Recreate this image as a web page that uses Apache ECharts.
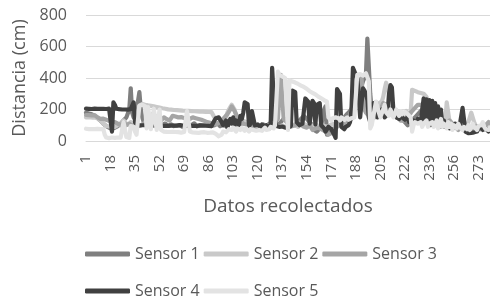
<!DOCTYPE html>
<html>
<head>
<meta charset="utf-8">
<script src="https://cdn.jsdelivr.net/npm/echarts@6/dist/echarts.min.js"></script>
<style>
html, body { margin: 0; padding: 0; background: #fff; }
#chart { width: 490px; height: 302px; }
</style>
</head>
<body>
<div id="chart"></div>
<script>
// numbered readings 1..281
var datos = [];
for (var k = 1; k <= 281; k++) datos.push(String(k));

var sensores = ['Sensor 1', 'Sensor 2', 'Sensor 3', 'Sensor 4', 'Sensor 5'];
var colores = ['#7f7f7f', '#c9c9c9', '#a5a5a5', '#404040', '#e3e3e3'];

var sensor1 = [
    180,178,175,176,170,165,160,150,145,140,130,120,110,100,95,90,85,80,75,80,
    85,90,95,100,110,120,130,140,150,160,200,335,180,150,140,200,250,310,200,150,
    120,110,100,105,112,98,95,101,106,110,99,94,90,103,105,111,100,96,102,105,
    100,95,105,99,110,101,95,90,100,104,110,98,95,100,106,112,100,94,90,100,
    105,100,95,101,110,104,100,95,90,100,105,112,100,94,100,105,99,95,101,110,
    120,132,140,118,110,100,95,102,110,121,130,108,100,95,90,100,105,96,90,100,
    95,90,100,105,95,88,100,110,100,95,90,100,95,100,110,120,130,140,150,140,
    130,120,110,100,90,100,110,120,130,140,150,160,150,140,130,120,110,100,70,60,
    60,70,80,100,150,200,220,40,35,50,60,72,80,90,98,110,120,128,140,150,
    160,172,180,190,200,218,240,262,280,300,320,350,380,400,420,650,640,300,200,180,
    170,160,150,160,172,180,190,198,210,220,230,220,210,200,190,182,170,160,150,140,
    130,120,110,100,110,120,130,140,150,160,170,180,190,200,190,180,170,160,150,140,
    130,120,110,100,95,90,100,110,100,95,90,85,80,90,100,95,90,85,80,90,
    85,80,90,95,100,90,85,80,75,80,85,90,80,75,70,80,85,90,80,75,
    70
];

var sensor2 = [
    150,148,152,150,149,151,150,148,145,140,130,120,110,100,95,90,92,95,90,88,
    90,95,100,110,105,100,130,140,110,100,105,120,110,100,95,150,180,220,230,235,
    232,230,228,226,225,223,222,220,218,216,214,212,210,208,206,205,203,201,200,199,
    198,197,196,196,195,195,194,193,193,192,192,191,190,190,189,189,188,188,187,187,
    186,186,185,185,184,184,183,183,182,150,148,145,140,135,130,125,130,150,180,200,
    215,230,228,200,160,140,130,125,120,130,140,120,110,100,105,110,100,95,90,85,
    90,85,80,95,90,85,100,95,90,110,130,120,100,95,90,85,100,95,90,100,
    95,100,90,105,110,100,95,90,100,110,95,100,105,90,95,100,110,95,100,105,
    100,95,90,100,110,95,100,90,85,100,95,110,100,90,95,100,110,105,95,100,
    110,120,130,150,200,250,300,350,380,390,300,250,200,220,240,260,200,180,170,160,
    180,200,220,240,230,250,280,330,370,375,300,220,200,180,190,170,180,175,170,180,
    180,175,190,170,180,175,325,320,318,315,310,308,305,303,300,298,280,250,230,220,
    210,190,180,170,160,150,140,120,110,120,245,240,120,100,110,90,100,95,110,100,
    95,100,110,90,100,120,150,180,175,120,100,90,85,95,100,90,85,95,90,85,
    80
];

var sensor3 = [
    165,166,164,165,163,165,164,160,150,145,140,138,142,140,135,130,128,125,120,118,
    120,115,110,105,100,110,120,115,100,105,110,100,95,100,105,110,100,95,100,105,
    110,120,132,140,150,158,170,165,160,152,140,135,130,141,150,145,138,135,130,125,
    160,158,155,157,150,148,152,150,145,140,138,142,140,145,150,148,145,142,140,138,
    135,130,128,125,120,118,115,112,110,108,105,110,115,120,130,140,150,160,170,180,
    200,220,210,190,170,150,140,130,120,110,100,105,110,100,95,90,100,95,90,85,
    85,90,80,85,90,95,85,80,90,100,110,120,130,140,150,420,430,140,130,120,
    120,110,100,95,90,100,110,120,115,110,100,90,80,85,90,100,95,70,75,80,
    90,85,80,75,70,65,60,55,40,45,50,60,70,80,90,100,110,120,110,100,
    100,110,120,130,140,150,200,250,300,350,380,400,250,200,180,170,160,150,140,130,
    150,160,170,180,200,220,240,250,230,220,210,200,190,180,170,160,150,140,130,120,
    130,140,150,160,170,180,190,200,210,220,230,240,230,220,210,200,190,180,170,160,
    150,140,130,120,110,100,90,80,90,100,110,120,130,120,110,100,90,80,70,80,
    90,100,110,90,80,70,60,70,80,90,100,95,85,75,70,80,90,100,110,120,
    110
];

var sensor4 = [
    205,205,204,205,203,204,205,205,204,203,204,205,204,204,203,204,205,204,60,245,
    230,205,200,202,201,200,203,200,201,199,200,202,200,245,118,105,100,98,102,100,
    97,100,96,99,101,95,98,100,97,96,99,98,100,96,95,97,99,96,94,98,
    102,98,100,97,99,101,96,98,100,97,95,98,99,96,100,97,98,95,97,99,
    96,98,95,97,94,96,92,95,90,130,145,140,150,135,120,100,115,130,85,120,
    140,110,150,105,130,120,100,160,140,180,245,240,235,95,110,190,195,100,95,105,
    98,90,105,92,85,100,95,80,110,465,470,130,95,88,90,85,92,80,85,90,
    85,90,95,320,325,310,120,115,100,95,110,105,270,265,250,110,100,255,240,105,
    230,220,240,100,95,80,60,70,90,85,75,65,40,20,330,335,300,90,80,75,
    90,85,100,120,200,465,470,420,400,300,150,140,335,320,300,260,150,120,180,240,
    250,245,150,145,160,200,180,150,140,170,300,355,340,200,170,150,160,140,180,150,
    140,135,130,150,120,140,110,130,125,115,140,130,120,110,270,120,265,110,260,100,
    255,110,240,105,220,120,200,100,130,90,85,95,80,100,90,85,110,95,90,100,
    100,210,215,60,55,50,55,52,50,55,58,60,80,75,85,70,65,80,75,60,
    70
];

var sensor5 = [
    78,76,75,77,75,74,76,75,77,76,75,74,76,40,22,20,18,20,22,20,
    20,18,22,20,21,19,120,130,25,22,20,95,100,90,60,40,30,225,235,230,
    225,220,80,215,210,75,70,205,200,70,65,200,70,65,60,62,58,60,57,60,
    58,55,57,54,56,55,53,55,57,56,190,195,60,55,54,56,53,55,52,54,
    55,53,56,54,52,55,53,50,55,60,45,40,30,25,40,60,70,55,65,75,
    80,70,85,75,60,80,90,70,85,75,65,80,70,60,75,85,70,80,65,75,
    70,80,65,75,85,70,80,75,90,85,80,100,110,440,420,415,410,405,400,395,
    70,385,382,378,376,371,366,362,357,352,347,343,336,331,322,316,311,306,300,296,
    289,282,276,271,266,260,256,250,150,140,130,145,135,150,140,145,130,150,140,135,
    140,150,135,130,145,140,150,160,420,430,425,420,415,410,430,420,380,80,100,150,
    200,250,240,180,150,140,200,230,180,170,160,200,190,150,170,200,180,160,190,170,
    180,185,175,170,160,150,60,100,120,130,110,100,120,90,110,100,130,90,110,100,
    120,90,110,130,80,100,140,90,110,100,80,120,90,110,70,100,90,80,110,90,
    85,70,90,80,75,100,70,85,110,90,80,70,95,85,100,120,90,75,80,70,
    85
];

var valores = [sensor1, sensor2, sensor3, sensor4, sensor5];
var grafico = echarts.init(document.getElementById('chart'));

var series = [];
for (var i = 0; i < sensores.length; i++) {
    series.push({
        name: sensores[i],
        type: 'line',
        data: valores[i],
        symbol: 'none',
        color: colores[i],
        lineStyle: { width: 4.2, color: colores[i], cap: 'round', join: 'round' }
    });
}

var texto = { color: '#595959', fontFamily: 'Open Sans', fontSize: 16 };
var titulo = { color: '#595959', fontFamily: 'Open Sans', fontSize: 18 };

var option = {
    animation: false,
    textStyle: { fontFamily: 'Open Sans' },
    grid: { left: 86, right: 0, top: 15, bottom: 161 },
    legend: [
        {
            data: ['Sensor 1', 'Sensor 2', 'Sensor 3'],
            left: 80, top: 241,
            icon: 'roundRect', itemWidth: 45, itemHeight: 5, itemGap: 4,
            textStyle: texto
        },
        {
            data: ['Sensor 4', 'Sensor 5'],
            left: 80, top: 278,
            icon: 'roundRect', itemWidth: 45, itemHeight: 5, itemGap: 4,
            textStyle: texto
        }
    ],
    xAxis: {
        type: 'category',
        data: datos,
        boundaryGap: false,
        name: 'Datos recolectados',
        nameLocation: 'middle',
        nameGap: 56,
        nameTextStyle: { color: '#595959', fontFamily: 'Open Sans', fontSize: 19 },
        axisTick: { show: false },
        axisLine: { lineStyle: { color: '#d9d9d9', width: 1 } },
        axisLabel: { interval: 16, rotate: 90, margin: 14, color: '#595959', fontFamily: 'Open Sans', fontSize: 15 }
    },
    yAxis: {
        type: 'value',
        min: 0, max: 800, interval: 200,
        name: 'Distancia (cm)',
        nameLocation: 'middle',
        nameGap: 46,
        nameTextStyle: titulo,
        axisLine: { show: false },
        axisTick: { show: false },
        axisLabel: { margin: 19, color: '#595959', fontFamily: 'Open Sans', fontSize: 16 },
        splitLine: { lineStyle: { color: '#d9d9d9', width: 1 } }
    },
    series: series
};

grafico.setOption(option);
</script>
</body>
</html>
